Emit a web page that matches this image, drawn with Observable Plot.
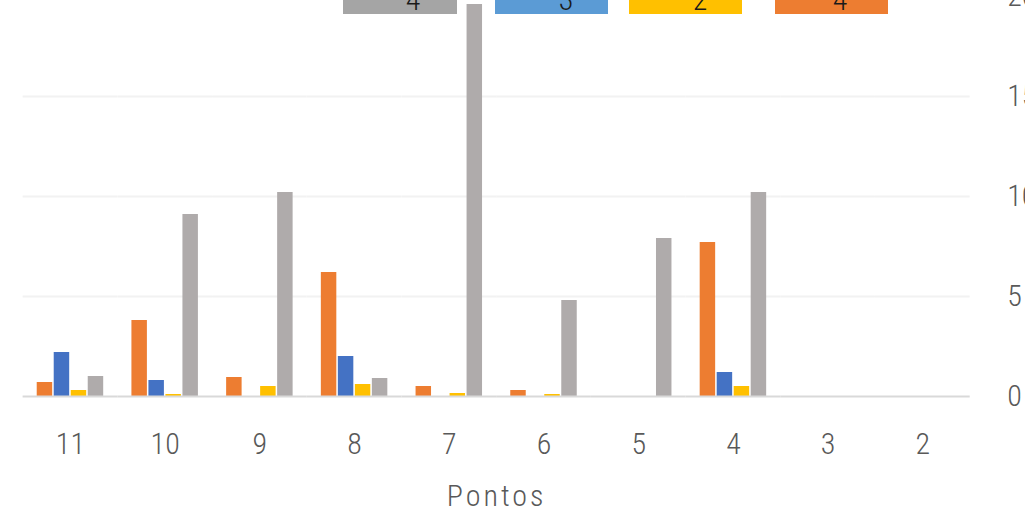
<!DOCTYPE html>
<html>
<head>
<meta charset="utf-8">
<script src="https://cdn.jsdelivr.net/npm/d3@7"></script>
<script src="https://cdn.jsdelivr.net/npm/@observablehq/plot@0.6"></script>
<style>
  html, body { margin: 0; padding: 0; background: #fff; overflow: hidden; }
  #wrap { position: relative; width: 1025px; height: 512px; }
  #wrap svg { font-family: "Roboto Condensed", "Liberation Sans Narrow", "DejaVu Sans Condensed", sans-serif; }
  .key { position: absolute; top: 0; height: 14px; overflow: hidden; }
  .key span { position: absolute; bottom: -1px; line-height: 1; font-size: 30px;
    font-family: "Roboto Condensed", "Liberation Sans Narrow", "DejaVu Sans Condensed", sans-serif;
    font-weight: 300; color: #1a1a1a; transform: translateX(-50%); }
</style>
</head>
<body>
<div id="wrap"></div>
<script>
// Points scored (categories, left to right)
const categories = ["11", "10", "9", "8", "7", "6", "5", "4", "3", "2"];

// Series values per category
const seriesOrange = [0.7, 3.8, 0.95, 6.2, 0.5, 0.3, 0, 7.7, 0, 0];
const seriesBlue   = [2.2, 0.8, 0, 2.0, 0, 0, 0, 1.2, 0, 0];
const seriesYellow = [0.3, 0.1, 0.5, 0.6, 0.15, 0.1, 0, 0.5, 0, 0];
const seriesGray   = [1.0, 9.1, 10.2, 0.9, 19.6, 4.8, 7.9, 10.2, 0, 0];

const seriesKeys = ["laranja", "azul", "amarelo", "cinza"];
const seriesColors = ["#ED7D31", "#4472C4", "#FFC000", "#AFABAB"];

// Legend boxes across the top
const legendLabels = ["4", "3", "2", "4"];
const legendColors = ["#A5A5A5", "#5B9BD5", "#FFC000", "#ED7D31"];

const yTicks = [0, 5, 10, 15, 20];

const valuesBySeries = [seriesOrange, seriesBlue, seriesYellow, seriesGray];
const data = [];
categories.forEach((c, i) => {
  seriesKeys.forEach((s, j) => data.push({cat: c, serie: s, value: valuesBySeries[j][i]}));
});

const chart = Plot.plot({
  width: 1025,
  height: 512,
  marginLeft: 22.6,
  marginRight: 55.3,
  marginTop: 0,
  marginBottom: 116,
  style: {background: "transparent", color: "#595959", fontWeight: 300},
  fx: {domain: categories, paddingInner: 0, paddingOuter: 0, round: false, label: null},
  x: {domain: seriesKeys, paddingInner: 0.09, paddingOuter: 0.83, round: false, axis: null},
  y: {domain: [0, 20], range: [396, -4], axis: null},
  color: {domain: seriesKeys, range: seriesColors},
  marks: [
    Plot.gridY(yTicks.slice(1), {stroke: "#F2F2F2", strokeOpacity: 1, strokeWidth: 2}),
    Plot.barY(data, {fx: "cat", x: "serie", y: "value", fill: "serie"}),
    Plot.ruleY([0], {stroke: "#D9D9D9", strokeWidth: 2}),
    Plot.axisFx({anchor: "bottom", tickSize: 0, tickPadding: 36, fontSize: 30,
      label: "Pontos", labelAnchor: "center", labelOffset: 109}),
    Plot.axisY(yTicks, {anchor: "right", tickSize: 0, tickPadding: 37, fontSize: 30, label: null})
  ]
});

// Wider tracking on the axis title
const axisTitle = chart.querySelector('[aria-label="fx-axis label"] text');
if (axisTitle) axisTitle.setAttribute("letter-spacing", "3");

const wrap = document.getElementById("wrap");
wrap.appendChild(chart);

// Legend overlay
const keyBoxes = [[343, 114, 413], [495, 113, 566], [629, 113, 700], [775, 113, 840]];
legendLabels.forEach((t, i) => {
  const [left, w, tx] = keyBoxes[i];
  const box = document.createElement("div");
  box.className = "key";
  box.style.left = left + "px";
  box.style.width = w + "px";
  box.style.background = legendColors[i];
  const s = document.createElement("span");
  s.textContent = t;
  s.style.left = (tx - left) + "px";
  box.appendChild(s);
  wrap.appendChild(box);
});
</script>
</body>
</html>
